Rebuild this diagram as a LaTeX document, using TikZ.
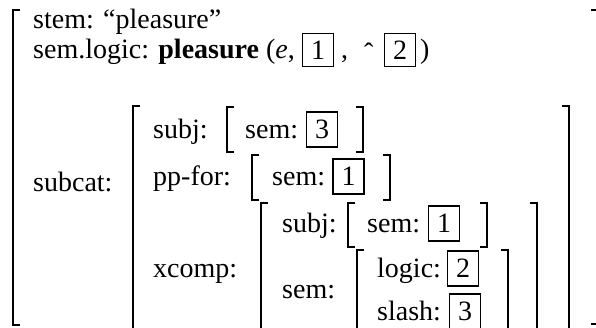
\documentclass[tikz,border=0pt]{standalone}
\usepackage{fontspec}
\setmainfont{Liberation Serif}
\usetikzlibrary{calc}
\newcommand\avmL[3]{\draw[brk] (#1+7,#2) -| (#1,#3) -- (#1+7,#3);}
\newcommand\avmR[3]{\draw[brk] (#1-7,#2) -| (#1,#3) -- (#1-7,#3);}
\begin{document}
\begin{tikzpicture}[x=1bp,y=-1bp,
  txt/.style={inner sep=0pt, anchor=base west, font=\fontsize{28bp}{32bp}\selectfont},
  bx/.style={draw, line width=1.2bp, inner sep=0pt, minimum width=31bp, minimum height=35bp, font=\fontsize{28bp}{32bp}\selectfont},
  brk/.style={line width=2.1bp, line cap=butt, line join=miter}]
\useasboundingbox (0,0) rectangle (596,327);
\clip (0,0) rectangle (596,327);
% outer matrix
\avmL{13}{10}{325}
\draw[brk] (591,10) -- (598,10) -- (598,324) -- (591,324);
\node[txt] (stem) at (33,28) {stem: “pleasure”};
\node[txt] (semlogic) at (33,58) {sem.logic: \textbf{pleasure} (\textit{e},};
\node[bx, minimum height=33bp] (b1) at (318,50) {1};
\node[txt] (comma) at (341,58) {,};
\node[txt] (hat) at (364,58) {\raisebox{-4bp}{ˆ}};
\node[bx, minimum height=33bp] (b2) at (400,50) {2};
\node[txt] (paren) at (420,58) {)};
% subcat
\node[txt] (subcat) at (33,191) {subcat:};
\avmL{133}{106}{345}
\avmR{569}{106}{345}
% subj row
\node[txt] (subj1) at (153,138) {subj:};
\avmL{227}{107}{152}
\node[txt] (sem1) at (245,138) {sem:};
\node[bx] (b3) at (322,129.5) {3};
\avmR{363}{107}{152}
% pp-for row
\node[txt] (ppfor) at (153,185) {pp-for:};
\avmL{252}{155}{200}
\node[txt] (sem2) at (272,185) {sem:};
\node[bx] (b4) at (348.5,176.5) {1};
\avmR{390}{155}{200}
% xcomp row
\node[txt] (xcomp) at (153,277) {xcomp:};
\avmL{261}{203}{345}
\avmR{537}{203}{345}
\node[txt] (subj2) at (282,232) {subj:};
\avmL{348}{203}{247}
\node[txt] (sem3) at (367,232) {sem:};
\node[bx] (b5) at (444,223.5) {1};
\avmR{487}{203}{247}
\node[txt] (sem4) at (282,298) {sem:};
\avmL{357}{250}{345}
\avmR{508}{250}{345}
\node[txt] (logic) at (377,277) {logic:};
\node[bx] (b6) at (463,268.5) {2};
\node[txt] (slash) at (377,320) {slash:};
\node[bx] (b7) at (465,311.5) {3};
\end{tikzpicture}
\end{document}
